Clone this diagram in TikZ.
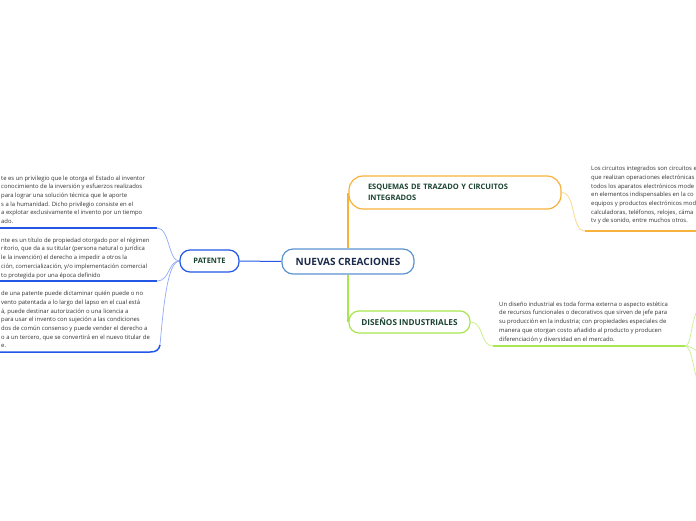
\documentclass[tikz,border=0pt]{standalone}
\usepackage{fontspec}
\setmainfont{Open Sans}
\usetikzlibrary{backgrounds}
\definecolor{bluedark}{HTML}{2457E6}
\definecolor{bluelight}{HTML}{8FA9F5}
\definecolor{centralb}{HTML}{5B93D1}
\definecolor{orangeb}{HTML}{F7B23B}
\definecolor{orangel}{HTML}{FCD68E}
\definecolor{greenb}{HTML}{A8E64F}
\definecolor{greenl}{HTML}{C9F08F}
\definecolor{titlegreen}{HTML}{1B4332}
\definecolor{navy}{HTML}{1A2A4A}
\definecolor{bodytext}{HTML}{333333}
\begin{document}
\begin{tikzpicture}[x=1pt,y=-1pt,
  topic/.style={draw, fill=white, line width=1.2pt, inner sep=0pt, text=titlegreen,
    font=\fontsize{7.5}{10.5}\selectfont\bfseries},
  body/.style={anchor=north west, inner sep=0pt, align=left, text=bodytext,
    font=\fontsize{5.9}{8.7}\selectfont},
  bthin/.style={draw=bluelight, line width=0.7pt},
  bthick/.style={draw=bluedark, line width=1.5pt},
]
\clip (0,0) rectangle (696,520);

% main nodes
\node[topic, draw=centralb, minimum width=132pt, minimum height=25pt, rounded corners=11pt,
  text=navy, font=\fontsize{10}{12}\selectfont\bfseries] (central) at (348,261.5) {NUEVAS CREACIONES};
\node[topic, draw=bluedark, minimum width=59pt, minimum height=22pt, rounded corners=10pt] (patente) at (209.5,261) {PATENTE};
\node[topic, draw=orangeb, minimum width=212pt, minimum height=33pt, rounded corners=14pt,
  align=left, text width=174pt, inner xsep=19pt] (esq) at (455,192.5) {ESQUEMAS DE TRAZADO Y CIRCUITOS\\INTEGRADOS};
\node[topic, draw=greenb, minimum width=121pt, minimum height=22pt, rounded corners=10pt,
  font=\fontsize{8.2}{10}\selectfont\bfseries] (dis) at (409.5,322) {DISEÑOS INDUSTRIALES};

% text blocks
\node[body] (t1) at (1,175.5) {te es un privilegio que le otorga el Estado al inventor\\
conocimiento de la inversión y esfuerzos realizados\\
para lograr una solución técnica que le aporte\\
s a la humanidad. Dicho privilegio consiste en el\\
a explotar exclusivamente el invento por un tiempo\\
ado.};
\node[body] (t2) at (1,237.5) {nte es un título de propiedad otorgado por el régimen\\
ritorio, que da a su titular (persona natural o jurídica\\
le la invención) el derecho a impedir a otros la\\
ción, comercialización, y/o implementación comercial\\
to protegida por una época definido};
\node[body] (t3) at (1,291) {de una patente puede dictaminar quién puede o no\\
vento patentada a lo largo del lapso en el cual está\\
á, puede destinar autorización o una licencia a\\
para usar el invento con sujeción a las condiciones\\
dos de común consenso y puede vender el derecho a\\
o a un tercero, que se convertirá en el nuevo titular de\\
e.};
\node[body] (t4) at (591,166) {Los circuitos integrados son circuitos e\\
que realizan operaciones electrónicas\\
todos los aparatos electrónicos mode\\
en elementos indispensables en la co\\
equipos y productos electrónicos mod\\
calculadoras, teléfonos, relojes, cáma\\
tv y de sonido, entre muchos otros.};
\node[body] (t5) at (499,301.5) {Un diseño industrial es toda forma externa o aspecto estética\\
de recursos funcionales o decorativos que sirven de jefe para\\
su producción en la industria; con propiedades especiales de\\
manera que otorgan costo añadido al producto y producen\\
diferenciación y diversidad en el mercado.};

% coordinates
\coordinate (u1) at (157,228);  \coordinate (u1l) at (-2,228);
\coordinate (u2) at (157,281);  \coordinate (u2l) at (-2,281);
\coordinate (u3) at (160,345);  \coordinate (u3l) at (-2,352);
\coordinate (o1) at (585,231);  \coordinate (o2) at (700,231);
\coordinate (g1) at (493,346);  \coordinate (j) at (685,346);
\coordinate (e1) at (700,305);  \coordinate (e2) at (700,353);
\coordinate (e3) at (700,390);

\begin{pgfonlayer}{background}
  % central links
  \draw[bluedark, line width=1pt] (patente.east) -- (central.west);
  \draw[orangeb, line width=1.3pt] (central.north) -- (central.north |- esq.west);
  \draw[greenb, line width=1.3pt] (central.south) -- (central.south |- dis.west);
  % patente children
  \draw[bthin] (patente.west) .. controls (168,261) and (170,228) .. (u1);
  \draw[bthick] (u1) -- (u1l);
  \draw[bthin] (patente.west) .. controls (168,261) and (170,281) .. (u2);
  \draw[bthick] (u2) -- (u2l);
  \draw[bthin] (patente.west) .. controls (168,262) and (164,300) .. (u3);
  \draw[bthick] (u3) .. controls (159,350) and (156,352) .. (150,352) -- (u3l);
  % esquemas child
  \draw[orangel, line width=0.8pt] (esq.east) .. controls (576,192.5) and (571,231) .. (o1);
  \draw[orangeb, line width=2pt] (o1) -- (o2);
  % disenos child
  \draw[greenl, line width=0.8pt] (dis.east) .. controls (484,322) and (480,346) .. (g1);
  \draw[greenb, line width=2pt] (g1) -- (j);
  \draw[greenl, line width=0.7pt] (j) .. controls (692,346) and (690,320) .. (e1);
  \draw[greenl, line width=0.7pt] (j) .. controls (692,346) and (694,350) .. (e2);
  \draw[greenl, line width=0.7pt] (j) .. controls (692,346) and (693,370) .. (e3);
\end{pgfonlayer}
\end{tikzpicture}
\end{document}
